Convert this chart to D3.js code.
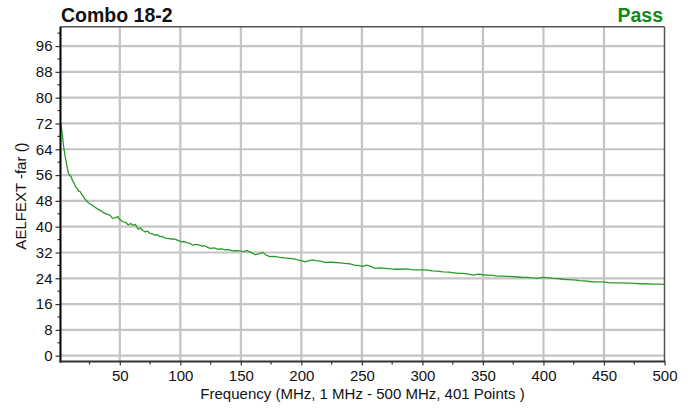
<!DOCTYPE html>
<html>
<head>
<meta charset="utf-8">
<script src="https://cdn.jsdelivr.net/npm/d3@7"></script>
<style>
  html, body { margin: 0; padding: 0; background: #fff; }
  svg { display: block; font-family: Arial, "Liberation Sans", Helvetica, sans-serif; }
</style>
</head>
<body>
<svg id="chart" width="695" height="409"></svg>
<script>
const title = "Combo 18-2";
const status = "Pass";
const xLabel = "Frequency (MHz, 1 MHz - 500 MHz, 401 Points )";
const yLabel = "AELFEXT -far ()";

const xTicks = [50, 100, 150, 200, 250, 300, 350, 400, 450, 500];
const yTicks = [0, 8, 16, 24, 32, 40, 48, 56, 64, 72, 80, 88, 96];

const freq = [1,2.25,3.5,4.75,6,7.25,8.5,9.75,11,12.25,13.5,14.75,16,17.25,18.5,19.75,21,22.25,23.5,25,
27,29,31,33,35,37.5,40,42,44,46,48.5,50,52.5,55,57,59,61,63,65,67,69,71,73,75,77,79,81,83,85,87,89,91,93,95,97,99,
101,103,106,108,110,113,116,118,120,123,125,128,131,134,137,140,143,146,149,152,155,158,162,165,168,171,174,178,
182,186,190,194,197,200,203,206,209,212,216,220,224,228,232,236,240,244,248,251,254,258,261,265,270,274,278,283,
287,291,295,300,304,308,312,317,322,326,330,334,338,342,346,350,354,358,362,366,370,375,379,383,387,391,395,399,
403,408,412,416,420,425,430,434,438,443,447,451,455,460,465,470,475,480,485,490,495,500];

const aelfext = [72.0,69.5,65.0,62.0,59.5,57.0,55.8,55.6,54.2,53.5,52.3,51.8,51.0,50.9,50.0,49.6,48.6,48.2,47.6,47.2,
46.7,46.2,45.6,45.2,44.8,44.1,43.8,43.5,42.6,42.7,43.1,42.2,41.5,41.3,40.5,41.0,40.4,40.7,39.2,39.6,38.8,38.4,38.6,37.9,37.8,37.4,37.5,36.9,37.0,36.5,36.4,36.3,36.1,36.2,35.9,35.6,
35.3,35.4,35.0,34.8,34.3,34.5,34.3,34.0,34.1,33.5,33.3,33.4,33.0,33.1,32.8,32.9,32.5,32.6,32.5,32.3,32.6,32.1,31.3,31.6,32.0,31.2,30.7,30.8,
30.5,30.3,30.2,30.0,29.7,29.5,29.1,29.4,29.7,29.5,29.3,28.9,29.0,28.9,28.8,28.6,28.5,28.1,27.9,27.7,28.1,27.6,27.1,27.2,27.1,26.9,26.8,26.8,
26.9,26.7,26.6,26.6,26.5,26.3,26.2,26.0,25.9,25.7,25.5,25.5,25.3,25.0,25.3,25.1,25.0,24.9,24.7,24.7,24.6,24.5,24.4,24.3,24.3,24.1,24.0,24.3,
24.2,24.0,23.9,23.7,23.6,23.5,23.3,23.2,23.0,22.9,22.9,22.8,22.6,22.6,22.6,22.5,22.4,22.3,22.3,22.2,22.2,22.1];

const svg = d3.select("#chart");
const L = 60.5, R = 664.5, T = 26.7, B = 361.5;

const x = d3.scaleLinear().domain([1, 500]).range([L, R]);
const y = d3.scaleLinear().domain([-2, 102]).range([362.15, T]);

// background
svg.append("rect").attr("x", L).attr("y", T).attr("width", R - L).attr("height", B - T).attr("fill", "#fff");

// grid
const grid = svg.append("g");
grid.selectAll("line.h").data(yTicks).join("line")
  .attr("x1", L).attr("x2", R).attr("y1", d => y(d)).attr("y2", d => y(d))
  .attr("stroke", "#c4c4c4").attr("stroke-width", 2.2);
grid.selectAll("line.v").data(xTicks.filter(d => d < 500)).join("line")
  .attr("y1", T).attr("y2", B).attr("x1", d => x(d)).attr("x2", d => x(d))
  .attr("stroke", "#c4c4c4").attr("stroke-width", 2.2);

// top and right border
svg.append("line").attr("x1", L).attr("x2", R).attr("y1", T).attr("y2", T).attr("stroke", "#555").attr("stroke-width", 1.5);
svg.append("line").attr("x1", R).attr("x2", R).attr("y1", T).attr("y2", B).attr("stroke", "#555").attr("stroke-width", 1.5);

// data line
const line = d3.line().x((d, i) => x(freq[i])).y(d => y(d));
svg.append("path").datum(aelfext)
  .attr("d", line).attr("fill", "none")
  .attr("stroke", "#2a9a2a").attr("stroke-width", 1.3).attr("stroke-linejoin", "round");

// y axis
const yMinor = d3.range(0, 102, 4).filter(v => yTicks.indexOf(v) < 0);
const yAxis = d3.axisLeft(y).tickValues(yTicks).tickSize(5).tickPadding(3).tickFormat(d3.format("d"));
const gy = svg.append("g").attr("transform", `translate(${L},0)`).call(yAxis);
gy.select(".domain").remove();
gy.selectAll(".tick line").attr("stroke", "#333").attr("stroke-width", 1.2);
gy.selectAll(".tick text").attr("font-size", 15).attr("fill", "#111").attr("font-family", "Arial, 'Liberation Sans', sans-serif");
svg.append("g").selectAll("line").data(yMinor).join("line")
  .attr("x1", L - 3).attr("x2", L).attr("y1", d => y(d)).attr("y2", d => y(d))
  .attr("stroke", "#333").attr("stroke-width", 1.2);
svg.append("line").attr("x1", L).attr("x2", L).attr("y1", T).attr("y2", B + 1)
  .attr("stroke", "#000").attr("stroke-width", 2);

// x axis
const xMinor = d3.range(25, 500, 50);
const xAxis = d3.axisBottom(x).tickValues(xTicks).tickSize(4).tickPadding(5).tickFormat(d3.format("d"));
const gx = svg.append("g").attr("transform", `translate(0,${B})`).call(xAxis);
gx.select(".domain").remove();
gx.selectAll(".tick line").attr("stroke", "#333").attr("stroke-width", 1.2);
gx.selectAll(".tick text").attr("font-size", 15).attr("fill", "#111").attr("font-family", "Arial, 'Liberation Sans', sans-serif");
svg.append("g").selectAll("line").data(xMinor).join("line")
  .attr("x1", d => x(d)).attr("x2", d => x(d)).attr("y1", B).attr("y2", B + 3)
  .attr("stroke", "#333").attr("stroke-width", 1.2);
svg.append("line").attr("x1", L - 1).attr("x2", R + 0.75).attr("y1", B).attr("y2", B)
  .attr("stroke", "#333").attr("stroke-width", 2.2);

// titles
svg.append("text").attr("x", 61).attr("y", 22).attr("font-size", 19.5).attr("font-weight", "bold")
  .attr("fill", "#111").text(title);
svg.append("text").attr("x", 663).attr("y", 22).attr("font-size", 19.5).attr("font-weight", "bold")
  .attr("text-anchor", "end").attr("fill", "#0f8a1a").text(status);
svg.append("text").attr("x", (L + R) / 2).attr("y", 399).attr("font-size", 15)
  .attr("text-anchor", "middle").attr("fill", "#111").text(xLabel);
svg.append("text").attr("transform", "translate(26,196) rotate(-90)").attr("font-size", 15)
  .attr("text-anchor", "middle").attr("fill", "#111").text(yLabel);
</script>
</body>
</html>
